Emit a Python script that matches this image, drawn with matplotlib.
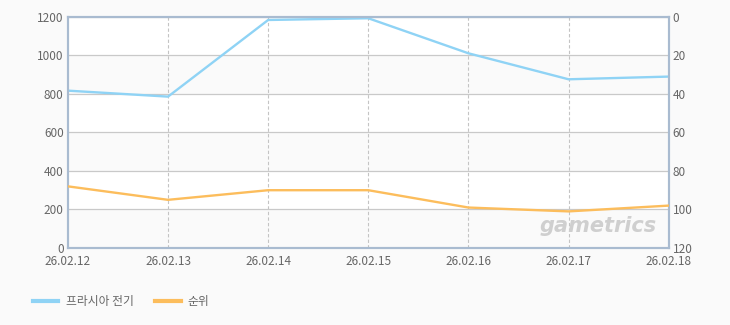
import matplotlib.pyplot as plt

plt.rcParams['font.family'] = ['Noto Sans CJK KR', 'DejaVu Sans']

dates = ['26.02.12', '26.02.13', '26.02.14', '26.02.15', '26.02.16', '26.02.17', '26.02.18']
players = [817, 786, 1184, 1193, 1011, 876, 890]
rank = [88, 95, 90, 90, 99, 101, 98]

blue = '#8fd3f5'
orange = '#fcbd5c'
frame = '#a9bbd0'
txt = '#666666'

fig = plt.figure(figsize=(7.3, 3.25), dpi=100, facecolor='#fafafa')
ax = fig.add_axes([0.093, 0.237, 0.823, 0.711])
ax.set_facecolor('white')

x = range(len(dates))
ax.set_xlim(0, len(dates) - 1)
ax.set_ylim(0, 1200)

# alternating bands
for lo, hi in [(0, 200), (400, 600), (800, 1000)]:
    ax.axhspan(lo, hi, color='#fafafa', zorder=0, lw=0)

ax.set_yticks(range(0, 1201, 200))
ax.grid(axis='y', color='#c9c9c9', lw=0.9, zorder=1)
ax.set_xticks(list(x))
ax.set_xticklabels(dates)
for xi in x[1:-1]:
    ax.axvline(xi, color='#c4c4c4', lw=0.8, ls=(0, (3, 2)), zorder=1)

ax.plot(x, players, color=blue, lw=1.7, zorder=3, label='프라시아 전기')

ax2 = ax.twinx()
ax2.set_ylim(120, 0)
ax2.set_yticks(range(0, 121, 20))
ax2.plot(x, rank, color=orange, lw=1.7, zorder=3, label='순위')

for a in (ax, ax2):
    for s in a.spines.values():
        s.set_color(frame)
        s.set_linewidth(1.5)
    a.tick_params(length=0, labelsize=8.5, labelcolor=txt, pad=3)
ax.tick_params(axis='x', pad=5)

ax.text(0.98, 0.05, 'gametrics', transform=ax.transAxes, ha='right', va='bottom',
        fontsize=15, fontweight='bold', style='italic', color='#cfcfcf',
        family='DejaVu Sans', zorder=2)

h1, l1 = ax.get_legend_handles_labels()
h2, l2 = ax2.get_legend_handles_labels()
fig.legend(h1 + h2, l1 + l2, loc='center left', bbox_to_anchor=(0.03, 0.072),
           ncol=2, frameon=False, fontsize=8.5, labelcolor=txt,
           handlelength=2.2, handletextpad=0.6, columnspacing=1.8)
for h in fig.legends[0].get_lines():
    h.set_linewidth(3)

fig.savefig('out.png', dpi=100, facecolor=fig.get_facecolor())
